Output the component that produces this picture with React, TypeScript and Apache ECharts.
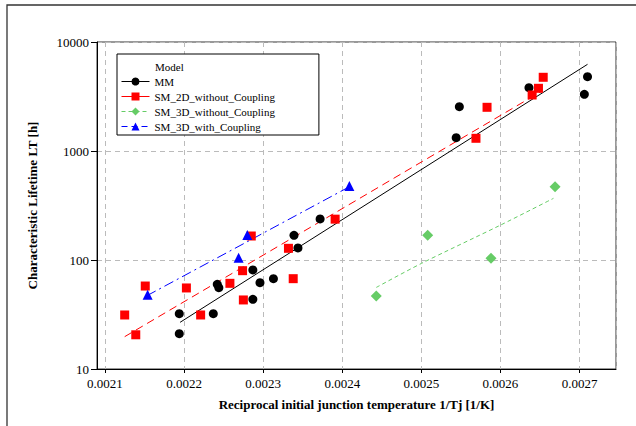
import React, { useEffect, useRef } from "react";
import * as echarts from "echarts";

// ---- data ----
const seriesNames = ["MM", "SM_2D_without_Coupling", "SM_3D_without_Coupling", "SM_3D_with_Coupling"];

const mmPoints: [number, number][] = [
  [0.002194, 32.2], [0.002194, 21.1], [0.002237, 32.2], [0.002242, 59.8], [0.002244, 55.7],
  [0.002287, 81], [0.002287, 43.6], [0.002296, 61.9], [0.002313, 67.4], [0.002339, 168.6],
  [0.002344, 129], [0.002372, 238], [0.002544, 1325], [0.002548, 2550], [0.002636, 3810],
  [0.002706, 3313], [0.00271, 4806],
];
const sm2dPoints: [number, number][] = [
  [0.002125, 31.3], [0.002139, 20.6], [0.002151, 57.7], [0.002203, 55.4], [0.002221, 31.3],
  [0.002258, 61.1], [0.002274, 79.8], [0.002275, 43], [0.002285, 166], [0.002332, 128],
  [0.002338, 67.4], [0.002391, 237], [0.002569, 1308], [0.002583, 2517], [0.00264, 3265],
  [0.002648, 3760], [0.002654, 4745],
];
const sm3dWithoutPoints: [number, number][] = [
  [0.002443, 46.8], [0.002508, 168.6], [0.002588, 103.7], [0.002669, 471],
];
const sm3dWithPoints: [number, number][] = [
  [0.002154, 48], [0.002269, 105], [0.00228, 170], [0.002409, 477],
];

const mmFit: [number, number][] = [[0.002195, 26.8], [0.00271, 6240]];
const sm2dFit: [number, number][] = [[0.002125, 19.8], [0.002651, 3500]];
const sm3dWithoutFit: [number, number][] = [[0.002443, 56], [0.0025, 93], [0.0026, 209], [0.002667, 368]];
const sm3dWithFit: [number, number][] = [[0.002153, 47], [0.002409, 470]];

const xMin = 0.00209;
const xMax = 0.002746;
const yMin = 10;
const yMax = 10000;

const xTitle = "Reciprocal initial junction temperature 1/Tj [1/K]";
const yTitle = "Characteristic Lifetime LT [h]";
const legendTitle = "Model";

const FONT = "Liberation Serif";

export default function App() {
  const ref = useRef<HTMLDivElement>(null);
  useEffect(() => {
    if (!ref.current) return;
    const chart = echarts.init(ref.current, undefined, { renderer: "svg" });
    const colors = ["#000000", "#ff0000", "#66cc66", "#0000ff"];
    const symbols = ["circle", "rect", "diamond", "triangle"];
    const sizes = [9, 9, 11, 10];
    const dashes: any[] = ["solid", [8, 5], [4, 3], [10, 4, 2, 4]];
    const legendDashes: any[] = ["solid", "solid", [4, 3], [6, 4]];
    const fits = [mmFit, sm2dFit, sm3dWithoutFit, sm3dWithFit];
    const pts = [mmPoints, sm2dPoints, sm3dWithoutPoints, sm3dWithPoints];

    const series: any[] = [];
    seriesNames.forEach((name, i) => {
      series.push({
        name,
        type: "line",
        data: fits[i],
        symbol: symbols[i],
        showSymbol: false,
        smooth: i === 2 ? 0.3 : false,
        itemStyle: { color: colors[i] },
        lineStyle: { color: colors[i], width: 1, type: dashes[i] },
        z: 2,
      });
    });
    seriesNames.forEach((name, i) => {
      series.push({
        name,
        type: "scatter",
        data: pts[i],
        symbol: symbols[i],
        symbolSize: sizes[i],
        itemStyle: { color: colors[i], opacity: 1 },
        z: 3,
      });
    });

    chart.setOption({
      animation: false,
      backgroundColor: "#ffffff",
      textStyle: { fontFamily: FONT },
      grid: {
        left: 97,
        top: 42,
        right: 20,
        bottom: 57,
        show: true,
        borderColor: "#333333",
        borderWidth: 1,
        backgroundColor: "transparent",
      },
      xAxis: {
        type: "value",
        min: xMin,
        max: xMax,
        minInterval: 0.0001,
        maxInterval: 0.0001,
        name: xTitle,
        nameLocation: "middle",
        nameGap: 29,
        nameTextStyle: { fontFamily: FONT, fontSize: 13, fontWeight: "bold", color: "#000" },
        axisLine: { show: true, lineStyle: { color: "#000", width: 1 } },
        axisTick: { show: true, length: 4, inside: false, lineStyle: { color: "#000" } },
        axisLabel: {
          showMinLabel: false,
          showMaxLabel: false,
          margin: 8,
          fontFamily: FONT,
          fontSize: 13,
          color: "#000",
          formatter: (v: number) => {
            const r = Math.round(v * 10000);
            if (Math.abs(v * 10000 - r) > 1e-6) return "";
            return (r / 10000).toFixed(4);
          },
        },
        splitLine: { show: true, lineStyle: { color: "#bbbbbb", type: [5, 4], width: 1 } },
      },
      yAxis: {
        type: "log",
        logBase: 10,
        min: yMin,
        max: yMax,
        name: yTitle,
        nameLocation: "middle",
        nameGap: 58,
        nameTextStyle: { fontFamily: FONT, fontSize: 13, fontWeight: "bold", color: "#000" },
        axisLine: { show: true, lineStyle: { color: "#000", width: 1 } },
        axisTick: { show: true, length: 6, inside: false, lineStyle: { color: "#000" } },
        axisLabel: {
          margin: 8,
          fontFamily: FONT,
          fontSize: 13,
          color: "#000",
          formatter: (v: number) => String(Math.round(v)),
        },
        splitLine: { show: true, lineStyle: { color: "#bbbbbb", type: [5, 4], width: 1 } },
      },
      legend: {
        orient: "vertical",
        left: 117,
        top: 54,
        padding: [22, 44, 3, 4],
        itemWidth: 28,
        itemHeight: 10,
        itemGap: 4,
        borderColor: "#000",
        borderWidth: 1,
        backgroundColor: "#fff",
        data: seriesNames.map((name, i) => ({
          name,
          lineStyle: { type: legendDashes[i], width: 1, color: colors[i] },
        })),
        textStyle: { fontFamily: FONT, fontSize: 11, color: "#000" },
      },
      graphic: [
        {
          type: "rect",
          shape: { x: 7, y: 5, width: 800, height: 600 },
          style: { fill: "none", stroke: "#333", lineWidth: 1.3 },
          silent: true,
          z: 100,
        },
        {
          type: "text",
          x: 155,
          y: 67,
          style: {
            text: legendTitle,
            fontFamily: FONT,
            fontSize: 11,
            fill: "#000",
            verticalAlign: "middle",
          },
          z: 100,
        },
      ],
      series,
    });
    return () => chart.dispose();
  }, []);
  return (
    <div
      ref={ref}
      style={{ position: "fixed", left: 0, top: 0, width: 636, height: 426, background: "#fff" }}
    />
  );
}
